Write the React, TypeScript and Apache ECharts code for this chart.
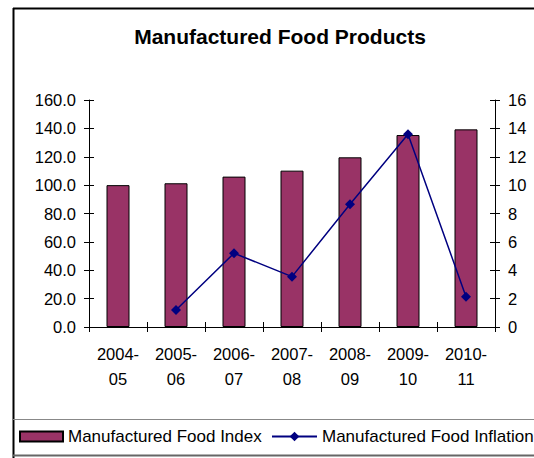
import React, { useEffect, useRef } from "react";
import * as echarts from "echarts";

const categories = ["2004-\n05", "2005-\n06", "2006-\n07", "2007-\n08", "2008-\n09", "2009-\n10", "2010-\n11"];
const foodIndex = [100.0, 101.3, 106.0, 110.2, 119.6, 135.3, 139.3];
const foodInflation: (number | null)[] = [null, 1.2, 5.2, 3.55, 8.65, 13.58, 2.14];

const FONT = "'Liberation Sans', Arial, sans-serif";

export default function App() {
  const ref = useRef<HTMLDivElement>(null);
  useEffect(() => {
    if (!ref.current) return;
    const chart = echarts.init(ref.current, null, { renderer: "svg" });
    const axisLine = { show: true, lineStyle: { color: "#000", width: 1 } };
    chart.setOption({
      animation: false,
      backgroundColor: "#fff",
      textStyle: { fontFamily: FONT },
      title: {
        text: "Manufactured Food Products",
        left: 275,
        textAlign: "center",
        top: 21,
        textStyle: { fontFamily: FONT, fontWeight: "bold", fontSize: 21, color: "#000" },
      },
      grid: { left: 89, right: 39, top: 100, bottom: 131, containLabel: false },
      legend: [
        {
          left: 19,
          top: 428,
          itemWidth: 43,
          itemHeight: 10,
          data: [{ name: "Manufactured Food Index", icon: "rect" }],
          textStyle: { fontFamily: FONT, fontSize: 17, color: "#000" },
          itemGap: 0,
          padding: 0,
        },
        {
          left: 271,
          top: 428,
          itemWidth: 45,
          itemHeight: 12,
          data: ["Manufactured Food Inflation"],
          textStyle: { fontFamily: FONT, fontSize: 17, color: "#000" },
          padding: 0,
        },
      ],
      xAxis: [
        {
          type: "category",
          data: categories,
          position: "bottom",
          axisLine,
          axisTick: { show: true, inside: false, length: 5, lineStyle: { color: "#000" } },
          axisLabel: { fontFamily: FONT, fontSize: 16.5, color: "#000", lineHeight: 25, margin: 14 },
          splitLine: { show: false },
        },
        {
          type: "category",
          data: categories,
          position: "bottom",
          axisLine: { show: false },
          axisTick: { show: true, inside: true, length: 5, lineStyle: { color: "#000" } },
          axisLabel: { show: false },
          splitLine: { show: false },
        },
      ],
      yAxis: [
        {
          type: "value",
          position: "left",
          min: 0,
          max: 160,
          interval: 20,
          axisLine,
          axisTick: { show: true, inside: false, length: 5, lineStyle: { color: "#000" } },
          axisLabel: {
            fontFamily: FONT,
            fontSize: 16.5,
            color: "#000",
            margin: 13,
            formatter: (v: number) => v.toFixed(1),
          },
          splitLine: { show: false },
        },
        {
          type: "value",
          position: "right",
          min: 0,
          max: 16,
          interval: 2,
          axisLine,
          axisTick: { show: true, inside: false, length: 5, lineStyle: { color: "#000" } },
          axisLabel: { fontFamily: FONT, fontSize: 16.5, color: "#000", margin: 13 },
          splitLine: { show: false },
        },
        {
          type: "value",
          position: "left",
          min: 0,
          max: 160,
          interval: 20,
          axisLine: { show: false },
          axisTick: { show: true, inside: true, length: 5, lineStyle: { color: "#000" } },
          axisLabel: { show: false },
          splitLine: { show: false },
        },
        {
          type: "value",
          position: "right",
          min: 0,
          max: 16,
          interval: 2,
          axisLine: { show: false },
          axisTick: { show: true, inside: true, length: 5, lineStyle: { color: "#000" } },
          axisLabel: { show: false },
          splitLine: { show: false },
        },
      ],
      series: [
        {
          name: "Manufactured Food Index",
          type: "bar",
          xAxisIndex: 0,
          yAxisIndex: 0,
          data: foodIndex,
          barWidth: 23,
          itemStyle: { color: "#993366", borderColor: "#000", borderWidth: 1 },
        },
        {
          name: "Manufactured Food Inflation",
          type: "line",
          xAxisIndex: 0,
          yAxisIndex: 1,
          data: foodInflation,
          symbol: "diamond",
          symbolSize: 10,
          lineStyle: { color: "#000080", width: 1.5 },
          itemStyle: { color: "#000080" },
          connectNulls: false,
        },
      ],
      graphic: [
        { type: "line", shape: { x1: 13, y1: 8.5, x2: 534, y2: 8.5 }, style: { stroke: "#000", lineWidth: 2 } },
        { type: "line", shape: { x1: 13.5, y1: 8, x2: 13.5, y2: 458 }, style: { stroke: "#000", lineWidth: 2 } },
        { type: "line", shape: { x1: 13, y1: 419.5, x2: 534, y2: 419.5 }, style: { stroke: "#888", lineWidth: 1 } },
        { type: "line", shape: { x1: 13, y1: 455.5, x2: 534, y2: 455.5 }, style: { stroke: "#666", lineWidth: 2 } },
      ],
    });
    return () => chart.dispose();
  }, []);
  return (
    <div
      ref={ref}
      style={{ position: "fixed", left: 0, top: 0, width: 534, height: 458 }}
    />
  );
}
